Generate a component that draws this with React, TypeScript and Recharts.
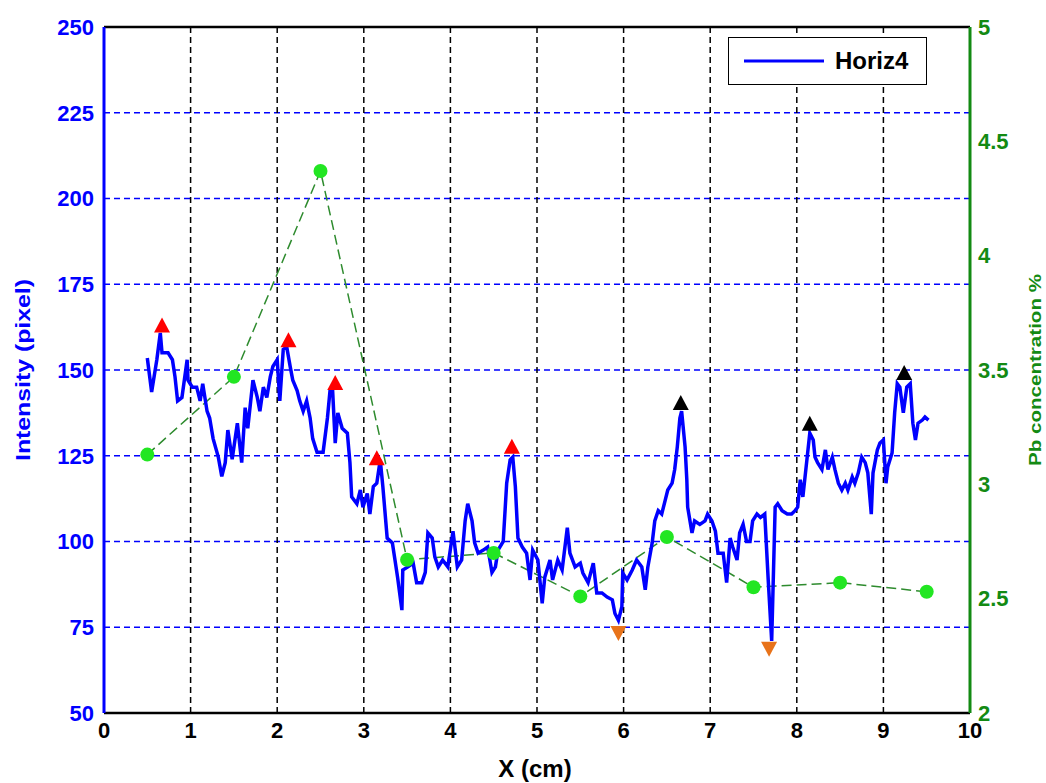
import { ComposedChart, Line, XAxis, YAxis, CartesianGrid, ReferenceLine, Legend } from 'recharts'

// Horiz4 intensity profile (x in cm, intensity in pixel units)
const horizX = [
  0.5, 0.55, 0.61, 0.65, 0.67, 0.74, 0.79, 0.82, 0.85, 0.9, 0.96, 0.97, 1.02, 1.07, 1.11, 1.14, 1.19, 1.22, 1.26, 1.32,
  1.36, 1.4, 1.43, 1.48, 1.54, 1.59, 1.63, 1.66, 1.72, 1.77, 1.8, 1.84, 1.88, 1.92, 1.95, 2.0, 2.03, 2.07, 2.11, 2.15,
  2.18, 2.23, 2.26, 2.3, 2.34, 2.38, 2.41, 2.46, 2.53, 2.58, 2.61, 2.64, 2.67, 2.7, 2.75, 2.81, 2.84, 2.86, 2.92, 2.96,
  2.99, 3.04, 3.07, 3.11, 3.15, 3.19, 3.22, 3.27, 3.33, 3.36, 3.39, 3.44, 3.45, 3.51, 3.57, 3.61, 3.67, 3.71, 3.74, 3.79,
  3.82, 3.86, 3.91, 3.97, 4.03, 4.08, 4.13, 4.17, 4.2, 4.25, 4.28, 4.32, 4.38, 4.43, 4.48, 4.52, 4.55, 4.61, 4.65, 4.69,
  4.72, 4.75, 4.78, 4.83, 4.88, 4.92, 4.95, 5.01, 5.06, 5.09, 5.15, 5.18, 5.24, 5.29, 5.35, 5.38, 5.44, 5.5, 5.53, 5.59,
  5.65, 5.69, 5.75, 5.81, 5.87, 5.9, 5.94, 5.98, 5.99, 6.04, 6.1, 6.15, 6.21, 6.25, 6.28, 6.33, 6.36, 6.4, 6.44, 6.48,
  6.51, 6.56, 6.59, 6.62, 6.65, 6.67, 6.71, 6.73, 6.74, 6.79, 6.82, 6.88, 6.94, 6.97, 7.02, 7.06, 7.09, 7.15, 7.19, 7.23,
  7.26, 7.31, 7.34, 7.38, 7.42, 7.46, 7.49, 7.54, 7.58, 7.63, 7.67, 7.71, 7.75, 7.78, 7.83, 7.89, 7.94, 7.98, 8.01, 8.04,
  8.07, 8.12, 8.15, 8.19, 8.21, 8.24, 8.29, 8.33, 8.36, 8.41, 8.44, 8.48, 8.52, 8.56, 8.59, 8.64, 8.67, 8.71, 8.75, 8.79,
  8.82, 8.86, 8.88, 8.93, 8.96, 9.0, 9.03, 9.05, 9.1, 9.13, 9.16, 9.19, 9.23, 9.27, 9.31, 9.34, 9.37, 9.4, 9.45, 9.48,
  9.52,
]
const horizY = [
  153.5, 143.6, 153, 160.8, 155, 155, 153, 148, 141, 142, 153, 147, 145, 145, 141, 146, 138, 136, 130, 124.6,
  119, 123, 132.5, 124, 134.5, 123, 139, 133, 147, 142, 138, 145, 142, 148, 151, 153, 141, 156, 156.7, 151,
  147, 144, 141, 138, 141, 136, 130, 126, 126, 136, 144, 144, 128.7, 137.5, 133, 131.6, 123, 113, 111, 115,
  110, 114, 108, 116, 117, 123.8, 116, 101, 99.6, 94.6, 89.6, 80, 91.7, 92.6, 93.7, 88, 88, 91, 102.5, 101,
  95.5, 92.6, 94.6, 92.6, 103, 92.6, 94.6, 106, 111, 106, 99.6, 96.6, 97.5, 98.4, 91, 92.6, 97.5, 100, 117, 123.8,
  124.6, 116, 101, 98.4, 96.6, 88.8, 97.5, 94.6, 82, 89.6, 94.6, 88.8, 94.6, 91.7, 104, 96.6, 92.6, 93.7, 90.8, 88,
  93.7, 85, 85, 83.8, 83, 79, 77, 81, 90.8, 88.8, 91.7, 94.6, 92.6, 85.9, 92.6, 99.6, 106, 109, 108, 112,
  115, 117, 121, 127.6, 136, 138, 127.6, 118, 110, 102.5, 106, 105, 106, 108, 106, 103, 96.6, 96.6, 88, 101,
  98.4, 94.6, 102.5, 105, 100, 100, 106, 108, 107, 108, 88.8, 71, 110, 111, 109, 108, 108, 109, 110, 118,
  113, 124.6, 131.6, 129.6, 124.6, 123, 121, 126.7, 121, 124.6, 121, 117, 115, 117, 115, 118.8, 117, 120, 124.6, 123,
  120, 108, 120, 126.7, 128.7, 129.6, 117, 121.7, 125.8, 137.5, 146, 145, 137.5, 145, 146, 134.5, 129.6, 134.5, 135.4, 136.3,
  135.4,
]

// Pb concentration (%) samples
const pbX = [0.5, 1.5, 2.5, 3.5, 4.5, 5.5, 6.5, 7.5, 8.5, 9.5]
const pbY = [3.13, 3.47, 4.37, 2.67, 2.7, 2.51, 2.77, 2.55, 2.57, 2.53]

// peak / minimum markers (intensity scale)
const redPeakX = [0.67, 2.13, 2.67, 3.15, 4.71]
const redPeakY = [163, 158.7, 146.2, 124.3, 127.6]
const blackPeakX = [6.66, 8.15, 9.24]
const blackPeakY = [140.4, 134.3, 149.1]
const minX = [5.94, 7.68]
const minY = [73.3, 68.7]

const xTicks = [0, 1, 2, 3, 4, 5, 6, 7, 8, 9, 10]
const leftTicks = [50, 75, 100, 125, 150, 175, 200, 225, 250]
const rightTicks = [2, 2.5, 3, 3.5, 4, 4.5, 5]

const zip = (xs: number[], ys: number[], key = 'y') => xs.map((x, i) => ({ x, [key]: ys[i] }))

const horizData = zip(horizX, horizY)
const pbData = zip(pbX, pbY, 'pb')
const redData = zip(redPeakX, redPeakY)
const blackData = zip(blackPeakX, blackPeakY)
const minData = zip(minX, minY)

const FONT = "'Liberation Sans', Arial, Helvetica, sans-serif"
const BLUE = '#0000ff'
const GREEN = '#138a13'

function Triangle({ cx, cy, fill, down }: any) {
  if (cx == null || cy == null) return null
  const pts = down
    ? `${cx - 8},${cy - 7} ${cx + 8},${cy - 7} ${cx},${cy + 8}`
    : `${cx},${cy - 8} ${cx - 8},${cy + 7} ${cx + 8},${cy + 7}`
  return <polygon points={pts} fill={fill} />
}

function SideTitle({ viewBox, text, color, size, dx, len }: any) {
  if (!viewBox) return null
  const cx = viewBox.x + dx
  const cy = viewBox.y + viewBox.height / 2
  return (
    <text
      x={cx}
      y={cy}
      transform={`rotate(-90 ${cx} ${cy})`}
      textAnchor="middle"
      dominantBaseline="central"
      fill={color}
      fontSize={size}
      fontWeight="bold"
      fontFamily={FONT}
      textLength={len}
      lengthAdjust="spacingAndGlyphs"
    >
      {text}
    </text>
  )
}

function LegendBox({ payload }: any) {
  const items = (payload || []).filter((p: any) => p.value === 'Horiz4')
  return (
    <div
      style={{
        border: '1.5px solid #000',
        background: '#fff',
        width: 199,
        height: 48,
        boxSizing: 'border-box',
        display: 'flex',
        alignItems: 'center',
      }}
    >
      {items.map((item: any) => (
        <div key={item.value} style={{ display: 'flex', alignItems: 'center' }}>
          <svg width={96} height={10}>
            <line x1={15} y1={5} x2={95} y2={5} stroke={item.color} strokeWidth={3} />
          </svg>
          <span style={{ marginLeft: 10, fontFamily: FONT, fontWeight: 'bold', fontSize: 24, color: '#000' }}>
            {item.value}
          </span>
        </div>
      ))}
    </div>
  )
}

export default function App() {
  return (
    <div style={{ position: 'absolute', left: 0, top: 0, background: '#fff' }}>
      <ComposedChart width={1046} height={783} margin={{ top: 27, right: 0, bottom: 0, left: 0 }}>
        <CartesianGrid
          yAxisId="left"
          vertical={false}
          stroke={BLUE}
          strokeWidth={1.5}
          strokeDasharray="6 4"
          horizontalValues={[75, 100, 125, 150, 175, 200, 225]}
        />
        <CartesianGrid
          yAxisId="left"
          horizontal={false}
          stroke="#000"
          strokeWidth={1.5}
          strokeDasharray="6 4"
          verticalValues={[1, 2, 3, 4, 5, 6, 7, 8, 9]}
        />
        <XAxis
          type="number"
          dataKey="x"
          domain={[0, 10]}
          ticks={xTicks}
          interval={0}
          allowDataOverflow
          height={70}
          axisLine={{ stroke: '#000', strokeWidth: 2.5 }}
          tickLine={false}
          tickSize={0}
          tickMargin={9}
          tick={{ fill: '#000', fontSize: 22, fontWeight: 'bold', fontFamily: FONT }}
          label={(p: any) => {
            const vb = p.viewBox
            if (!vb) return null
            return (
              <text
                x={vb.x + vb.width / 2 - 2}
                y={vb.y + 64}
                textAnchor="middle"
                fill="#000"
                fontSize={24}
                fontWeight="bold"
                fontFamily={FONT}
              >
                X (cm)
              </text>
            )
          }}
        />
        <YAxis
          yAxisId="left"
          orientation="left"
          dataKey="y"
          type="number"
          domain={[50, 250]}
          ticks={leftTicks}
          interval={0}
          allowDataOverflow
          width={104}
          axisLine={{ stroke: BLUE, strokeWidth: 3 }}
          tickLine={false}
          tickSize={0}
          tickMargin={10}
          tick={{ fill: BLUE, fontSize: 22, fontWeight: 'bold', fontFamily: FONT }}
          label={(p: any) => (
            <SideTitle viewBox={p.viewBox} text="Intensity (pixel)" color={BLUE} size={21} dx={22} len={182} />
          )}
        />
        <YAxis
          yAxisId="right"
          orientation="right"
          dataKey="pb"
          type="number"
          domain={[2, 5]}
          ticks={rightTicks}
          interval={0}
          allowDataOverflow
          width={76}
          axisLine={{ stroke: GREEN, strokeWidth: 3 }}
          tickLine={false}
          tickSize={0}
          tickMargin={8}
          tick={{ fill: GREEN, fontSize: 22, fontWeight: 'bold', fontFamily: FONT }}
          label={(p: any) => (
            <SideTitle viewBox={p.viewBox} text="Pb concentration %" color={GREEN} size={17} dx={65} len={192} />
          )}
        />
        <ReferenceLine yAxisId="left" y={250} stroke="#000" strokeWidth={2.5} />
        <Legend
          layout="horizontal"
          align="center"
          verticalAlign="middle"
          content={<LegendBox />}
          wrapperStyle={{ position: 'absolute', left: 728, top: 37, width: 'auto' }}
        />
        <Line
          yAxisId="right"
          data={pbData}
          dataKey="pb"
          name="Pb"
          type="linear"
          stroke="#2e8b2e"
          strokeWidth={1.5}
          strokeDasharray="10 5"
          dot={{ r: 7, fill: '#22e622', stroke: 'none' }}
          legendType="none"
          isAnimationActive={false}
        />
        <Line
          yAxisId="left"
          data={horizData}
          dataKey="y"
          name="Horiz4"
          type="linear"
          stroke={BLUE}
          strokeWidth={3.5}
          dot={false}
          isAnimationActive={false}
        />
        <Line
          yAxisId="left"
          data={redData}
          dataKey="y"
          name="red peaks"
          stroke="none"
          legendType="none"
          dot={(p: any) => <Triangle key={`r${p.index}`} cx={p.cx} cy={p.cy} fill="#ff0000" />}
          isAnimationActive={false}
        />
        <Line
          yAxisId="left"
          data={blackData}
          dataKey="y"
          name="black peaks"
          stroke="none"
          legendType="none"
          dot={(p: any) => <Triangle key={`b${p.index}`} cx={p.cx} cy={p.cy} fill="#000" />}
          isAnimationActive={false}
        />
        <Line
          yAxisId="left"
          data={minData}
          dataKey="y"
          name="minima"
          stroke="none"
          legendType="none"
          dot={(p: any) => <Triangle key={`m${p.index}`} cx={p.cx} cy={p.cy} fill="#e8731a" down />}
          isAnimationActive={false}
        />
      </ComposedChart>
    </div>
  )
}
